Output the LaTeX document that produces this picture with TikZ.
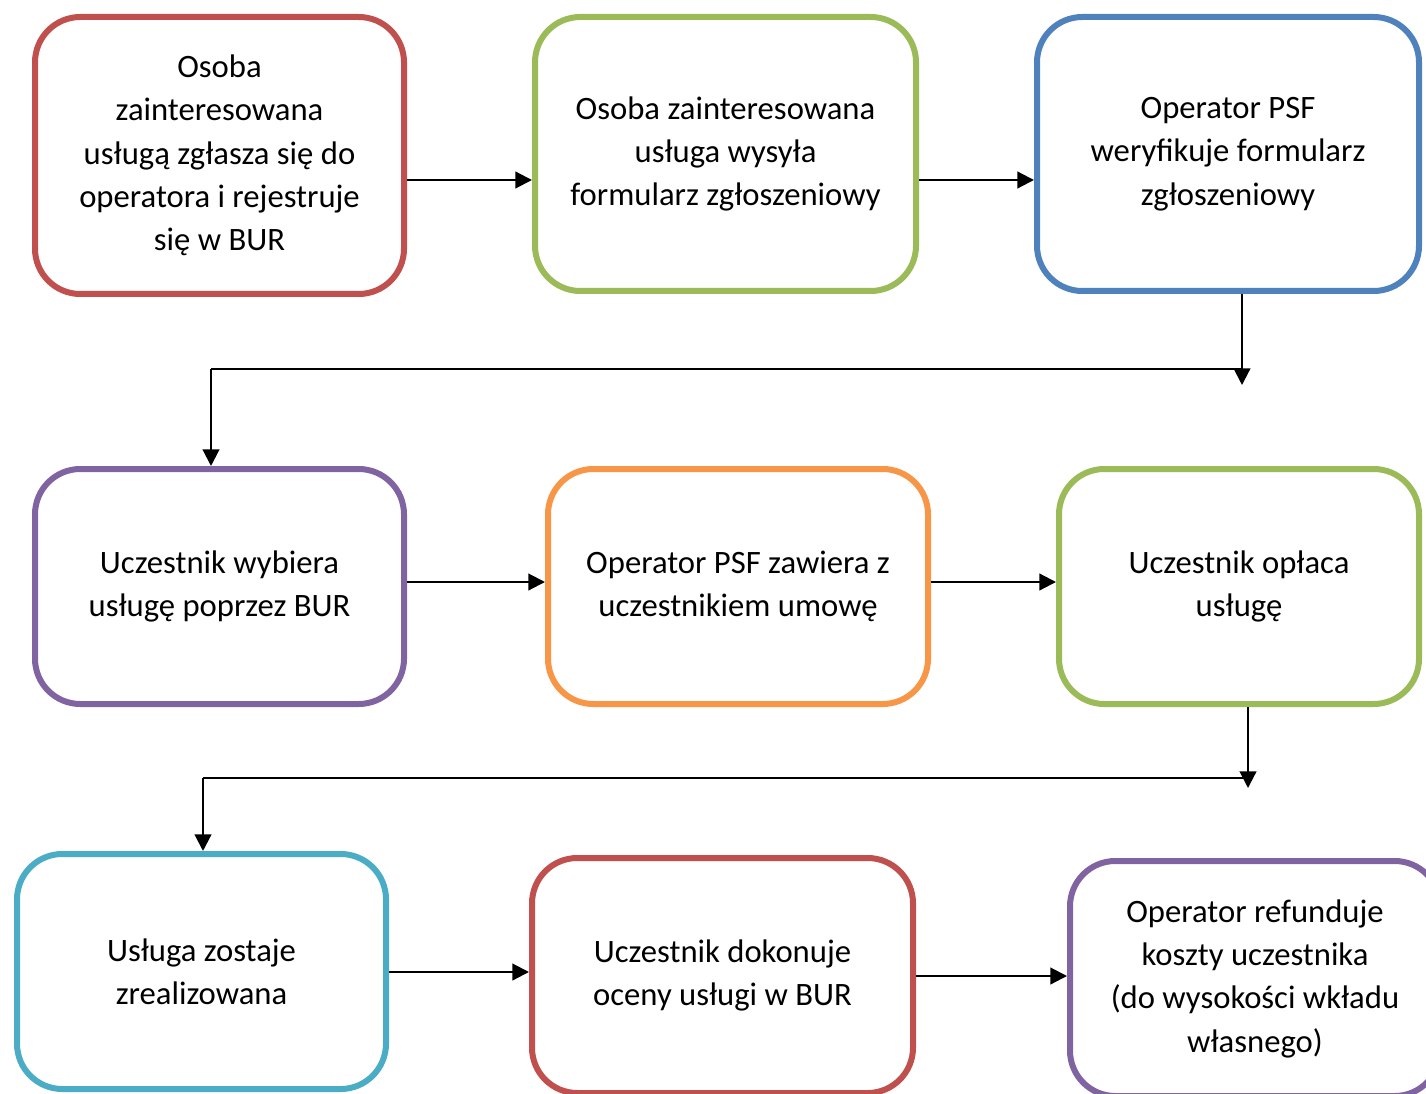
\documentclass[tikz,border=0pt]{standalone}
\usepackage{fontspec}
\setmainfont{Carlito}
\usetikzlibrary{shapes,arrows.meta}

\definecolor{cred}{HTML}{C0504D}
\definecolor{cgreen}{HTML}{9BBB59}
\definecolor{cblue}{HTML}{4F81BD}
\definecolor{cpurple}{HTML}{8064A2}
\definecolor{corange}{HTML}{F79646}
\definecolor{ccyan}{HTML}{4BACC6}

\begin{document}
\begin{tikzpicture}[x=0.75pt,y=-0.75pt,
  stepbox/.style={draw=#1,line width=4.5pt,rounded corners=34pt,align=center,
    font=\fontsize{24.5pt}{32.5pt}\selectfont},
  arr/.style={line width=1.6pt,-{Triangle[length=12.5pt,width=12.5pt]}},
  conn/.style={line width=1pt}]
\useasboundingbox (0,0) rectangle (1426,1094);
% first row
\node[stepbox=cred,minimum width=369*0.75pt,minimum height=277*0.75pt](zglosz)at(219.5,155.5){Osoba\\zainteresowana\\usługą zgłasza się do\\operatora i rejestruje\\się w BUR};
\node[stepbox=cgreen,minimum width=381*0.75pt,minimum height=274*0.75pt](formularz)at(725.5,154){Osoba zainteresowana\\usługa wysyła\\formularz zgłoszeniowy};
\node[stepbox=cblue,minimum width=382*0.75pt,minimum height=274*0.75pt](weryf)at(1228,154){Operator PSF\\weryfikuje formularz\\zgłoszeniowy};
% second row
\node[stepbox=cpurple,minimum width=369*0.75pt,minimum height=235*0.75pt](wybor)at(219.5,586.5){Uczestnik wybiera\\usługę poprzez BUR};
\node[stepbox=corange,minimum width=380*0.75pt,minimum height=235*0.75pt](umowa)at(738,586.5){Operator PSF zawiera z\\uczestnikiem umowę};
\node[stepbox=cgreen,minimum width=360*0.75pt,minimum height=235*0.75pt](oplata)at(1239,586.5){Uczestnik opłaca\\usługę};
% third row
\node[stepbox=ccyan,minimum width=369*0.75pt,minimum height=235*0.75pt](realiz)at(201.5,971.5){Usługa zostaje\\zrealizowana};
\node[stepbox=cred,minimum width=381*0.75pt,minimum height=235*0.75pt](ocena)at(722.5,975.5){Uczestnik dokonuje\\oceny usługi w BUR};
\node[stepbox=cpurple,minimum width=370*0.75pt,minimum height=235*0.75pt](refund)at(1255,978.5){Operator refunduje\\koszty uczestnika\\(do wysokości wkładu\\własnego)};
% arrows in rows
\draw[arr](zglosz.east|-0,180)--(formularz.west|-0,180);
\draw[arr](formularz.east|-0,180)--(weryf.west|-0,180);
\draw[arr](wybor.east|-0,582)--(umowa.west|-0,582);
\draw[arr](umowa.east|-0,582)--(oplata.west|-0,582);
\draw[arr](realiz.east|-0,972)--(ocena.west|-0,972);
\draw[arr](ocena.east|-0,976)--(refund.west|-0,976);
% row to row
\coordinate(tip1)at(1242,385);
\coordinate(turn1)at(211,369);
\draw[arr](weryf.south-|tip1)--(tip1);
\draw[conn](turn1)--(turn1-|tip1);
\draw[arr](turn1)--(wybor.north-|turn1);
\coordinate(tip2)at(1248,788);
\coordinate(turn2)at(203,778);
\draw[arr](oplata.south-|tip2)--(tip2);
\draw[conn](turn2)--(turn2-|tip2);
\draw[arr](turn2)--(realiz.north-|turn2);
\end{tikzpicture}
\end{document}
